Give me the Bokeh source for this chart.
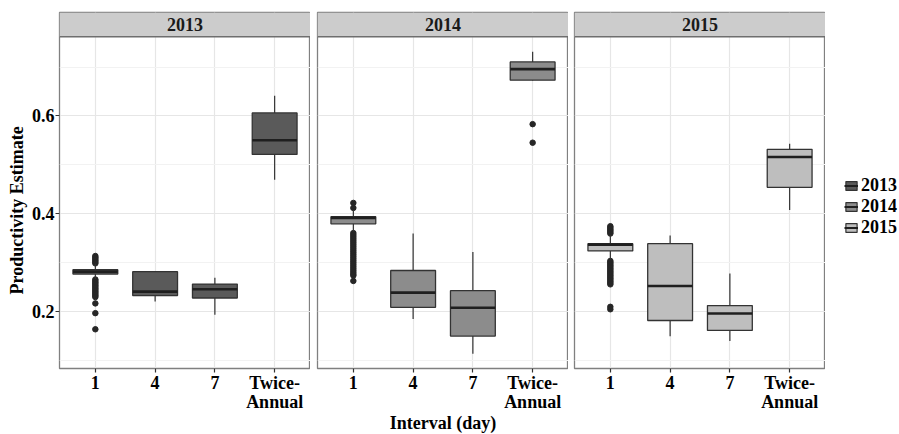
from bokeh.plotting import figure
from bokeh.layouts import row
from bokeh.models import Range1d, FixedTicker, Legend, LegendItem, Title
from bokeh.core.properties import value
from bokeh.embed import file_html
from bokeh.resources import INLINE

# ---------------- data ----------------
categories = ["1", "4", "7", "Twice-\nAnnual"]
years = ["2013", "2014", "2015"]
y_ticks = [0.2, 0.4, 0.6]
y_minor = [0.1, 0.3, 0.5, 0.7]

q1_2013 = [0.276, 0.232, 0.227, 0.521]
med_2013 = [0.281, 0.240, 0.245, 0.550]
q3_2013 = [0.285, 0.281, 0.2555, 0.606]
lo_2013 = [0.266, 0.220, 0.193, 0.469]
hi_2013 = [0.297, 0.281, 0.2685, 0.641]
out_2013 = [
    [0.313, 0.310, 0.307, 0.304, 0.301, 0.298,
     0.265, 0.262, 0.259, 0.256, 0.253, 0.250, 0.247, 0.244, 0.241,
     0.238, 0.235, 0.232, 0.229, 0.216, 0.196, 0.163],
    [], [], []]

q1_2014 = [0.379, 0.208, 0.149, 0.673]
med_2014 = [0.391, 0.238, 0.207, 0.6956]
q3_2014 = [0.3935, 0.2834, 0.242, 0.7105]
lo_2014 = [0.363, 0.184, 0.113, 0.672]
hi_2014 = [0.405, 0.359, 0.321, 0.731]
out_2014 = [
    [0.4217, 0.4115,
     0.360, 0.356, 0.352, 0.348, 0.344, 0.340, 0.336, 0.332, 0.328, 0.324,
     0.320, 0.316, 0.312, 0.308, 0.304, 0.300, 0.296, 0.292, 0.288, 0.284,
     0.280, 0.276, 0.273, 0.262],
    [], [], [0.583, 0.545]]

q1_2015 = [0.3234, 0.181, 0.1607, 0.4536]
med_2015 = [0.3363, 0.2515, 0.1953, 0.5158]
q3_2015 = [0.3383, 0.3383, 0.2116, 0.5315]
lo_2015 = [0.306, 0.1485, 0.1391, 0.4074]
hi_2015 = [0.356, 0.3552, 0.2773, 0.5431]
out_2015 = [
    [0.374, 0.371, 0.368, 0.365, 0.362, 0.359,
     0.303, 0.300, 0.297, 0.294, 0.291, 0.288, 0.285, 0.282, 0.279, 0.276,
     0.273, 0.270, 0.267, 0.264, 0.261, 0.258, 0.255, 0.209, 0.204],
    [], [], []]

fill_colors = ["#5a5a5a", "#8c8c8c", "#bebebe"]
y_label = "Productivity Estimate"
x_label = "Interval (day)"

# ---------------- style ----------------
FONT_NAME = "Liberation Serif"
Y0, Y1 = 0.0827, 0.8116
STRIP_BOTTOM = 0.762
X0, X1 = 0.4, 0.6 + len(categories)
BOX_W = 0.75
FW, FH = 251, 356
TOP = 12
BOTTOM = 62
LINE = "#333333"

x_pos = [i + 1 for i in range(len(categories))]


def make_panel(year, fill, q1, med, q3, lo, hi, outs, left, show_y, xlabel):
    p = figure(frame_width=FW, frame_height=FH, output_backend="svg", toolbar_location=None,
               x_range=Range1d(X0, X1), y_range=Range1d(Y0, Y1),
               min_border_left=left, min_border_right=0,
               min_border_top=TOP, min_border_bottom=BOTTOM)
    p.outline_line_color = "#808080"
    p.outline_line_width = 1.3
    p.background_fill_color = "white"
    p.border_fill_color = "white"

    # axes
    p.xaxis.ticker = FixedTicker(ticks=x_pos)
    p.xaxis.major_label_overrides = {x: c for x, c in zip(x_pos, categories)}
    p.yaxis.ticker = FixedTicker(ticks=y_ticks, minor_ticks=y_minor)
    for ax in (p.xaxis[0], p.yaxis[0]):
        ax.axis_line_color = None
        ax.major_tick_line_color = LINE
        ax.major_tick_line_width = 1.2
        ax.major_tick_in = 0
        ax.major_tick_out = 4
        ax.minor_tick_line_color = None
        ax.major_label_text_font = FONT_NAME
        ax.major_label_text_font_style = "bold"
        ax.major_label_text_font_size = "18px"
        ax.major_label_text_color = "black"
        ax.major_label_text_line_height = 0.95
        ax.axis_label_text_font = FONT_NAME
        ax.axis_label_text_font_style = "bold"
        ax.axis_label_text_font_size = "18px"
        ax.axis_label_text_color = "black"
    p.xaxis.major_label_standoff = 0
    p.yaxis.major_label_standoff = 1
    if xlabel:
        p.xaxis.axis_label = xlabel
        p.xaxis.axis_label_standoff = -2
    if show_y:
        p.add_layout(Title(text=y_label, align="left", offset=74, standoff=3,
                           text_font=FONT_NAME, text_font_style="bold",
                           text_font_size="18px", text_color="black"), "left")
    else:
        p.yaxis.visible = False

    # grids
    p.xgrid.ticker = FixedTicker(ticks=x_pos)
    p.ygrid.ticker = FixedTicker(ticks=y_ticks, minor_ticks=y_minor)
    p.xgrid.grid_line_color = "#e6e6e6"
    p.ygrid.grid_line_color = "#e6e6e6"
    p.xgrid.grid_line_width = 1.2
    p.ygrid.grid_line_width = 1.2
    p.ygrid.minor_grid_line_color = "#f2f2f2"
    p.ygrid.minor_grid_line_width = 1.0

    # boxplots
    ox, oy = [], []
    for x, o in zip(x_pos, outs):
        ox += [x] * len(o)
        oy += o
    p.scatter(x=ox, y=oy, size=5.5, color="#262626")
    p.segment(x0=x_pos, x1=x_pos, y0=q3, y1=hi, line_color=LINE, line_width=1.2)
    p.segment(x0=x_pos, x1=x_pos, y0=q1, y1=lo, line_color=LINE, line_width=1.2)
    p.vbar(x=x_pos, width=BOX_W, bottom=q1, top=q3, fill_color=fill,
           line_color=LINE, line_width=1.3)
    p.segment(x0=[x - BOX_W / 2 for x in x_pos], x1=[x + BOX_W / 2 for x in x_pos],
              y0=med, y1=med, line_color="#1f1f1f", line_width=2.6)

    # facet strip
    p.quad(left=[X0], right=[X1], bottom=[STRIP_BOTTOM], top=[Y1],
           fill_color="#cccccc", line_color=None)
    p.segment(x0=[X0], x1=[X1], y0=[STRIP_BOTTOM], y1=[STRIP_BOTTOM],
              line_color="#6e6e6e", line_width=1.3)
    p.text(x=[(X0 + X1) / 2], y=[(STRIP_BOTTOM + Y1) / 2], text=[year],
           text_font=value(FONT_NAME), text_font_style="bold", text_font_size="18px",
           text_align="center", text_baseline="middle", text_color="#1a1a1a")
    return p


p1 = make_panel(years[0], fill_colors[0], q1_2013, med_2013, q3_2013, lo_2013, hi_2013,
                out_2013, 59, True, None)
p2 = make_panel(years[1], fill_colors[1], q1_2014, med_2014, q3_2014, lo_2014, hi_2014,
                out_2014, 7, False, x_label)
p3 = make_panel(years[2], fill_colors[2], q1_2015, med_2015, q3_2015, lo_2015, hi_2015,
                out_2015, 6, False, None)

# legend panel
NAN = float("nan")
pl = figure(frame_width=74, frame_height=FH, output_backend="svg", toolbar_location=None,
            x_range=Range1d(0, 1), y_range=Range1d(0, 1),
            min_border_left=0, min_border_right=0,
            min_border_top=TOP, min_border_bottom=BOTTOM,
            x_axis_location=None, y_axis_location=None)
pl.outline_line_color = None
pl.xgrid.visible = False
pl.ygrid.visible = False
items = []
for yr, fc in zip(years, fill_colors):
    r1 = pl.vbar(x=[NAN], width=0.5, top=[NAN], bottom=[NAN], fill_color=fc,
                 line_color=LINE, line_width=1.2)
    r2 = pl.segment(x0=[NAN], x1=[NAN], y0=[NAN], y1=[NAN],
                    line_color="#1f1f1f", line_width=2)
    items.append(LegendItem(label=yr, renderers=[r1, r2]))
legend = Legend(items=items, location=(19, 130), margin=0, padding=0, spacing=0,
                glyph_width=14, glyph_height=11, label_height=17, label_standoff=3,
                label_text_font=FONT_NAME, label_text_font_style="bold",
                label_text_font_size="18px", label_text_color="black",
                label_text_line_height=0.9,
                border_line_color=None, background_fill_alpha=0)
pl.add_layout(legend)

layout = row(p1, p2, p3, pl)
open("out.html", "w").write(file_html(layout, INLINE))
